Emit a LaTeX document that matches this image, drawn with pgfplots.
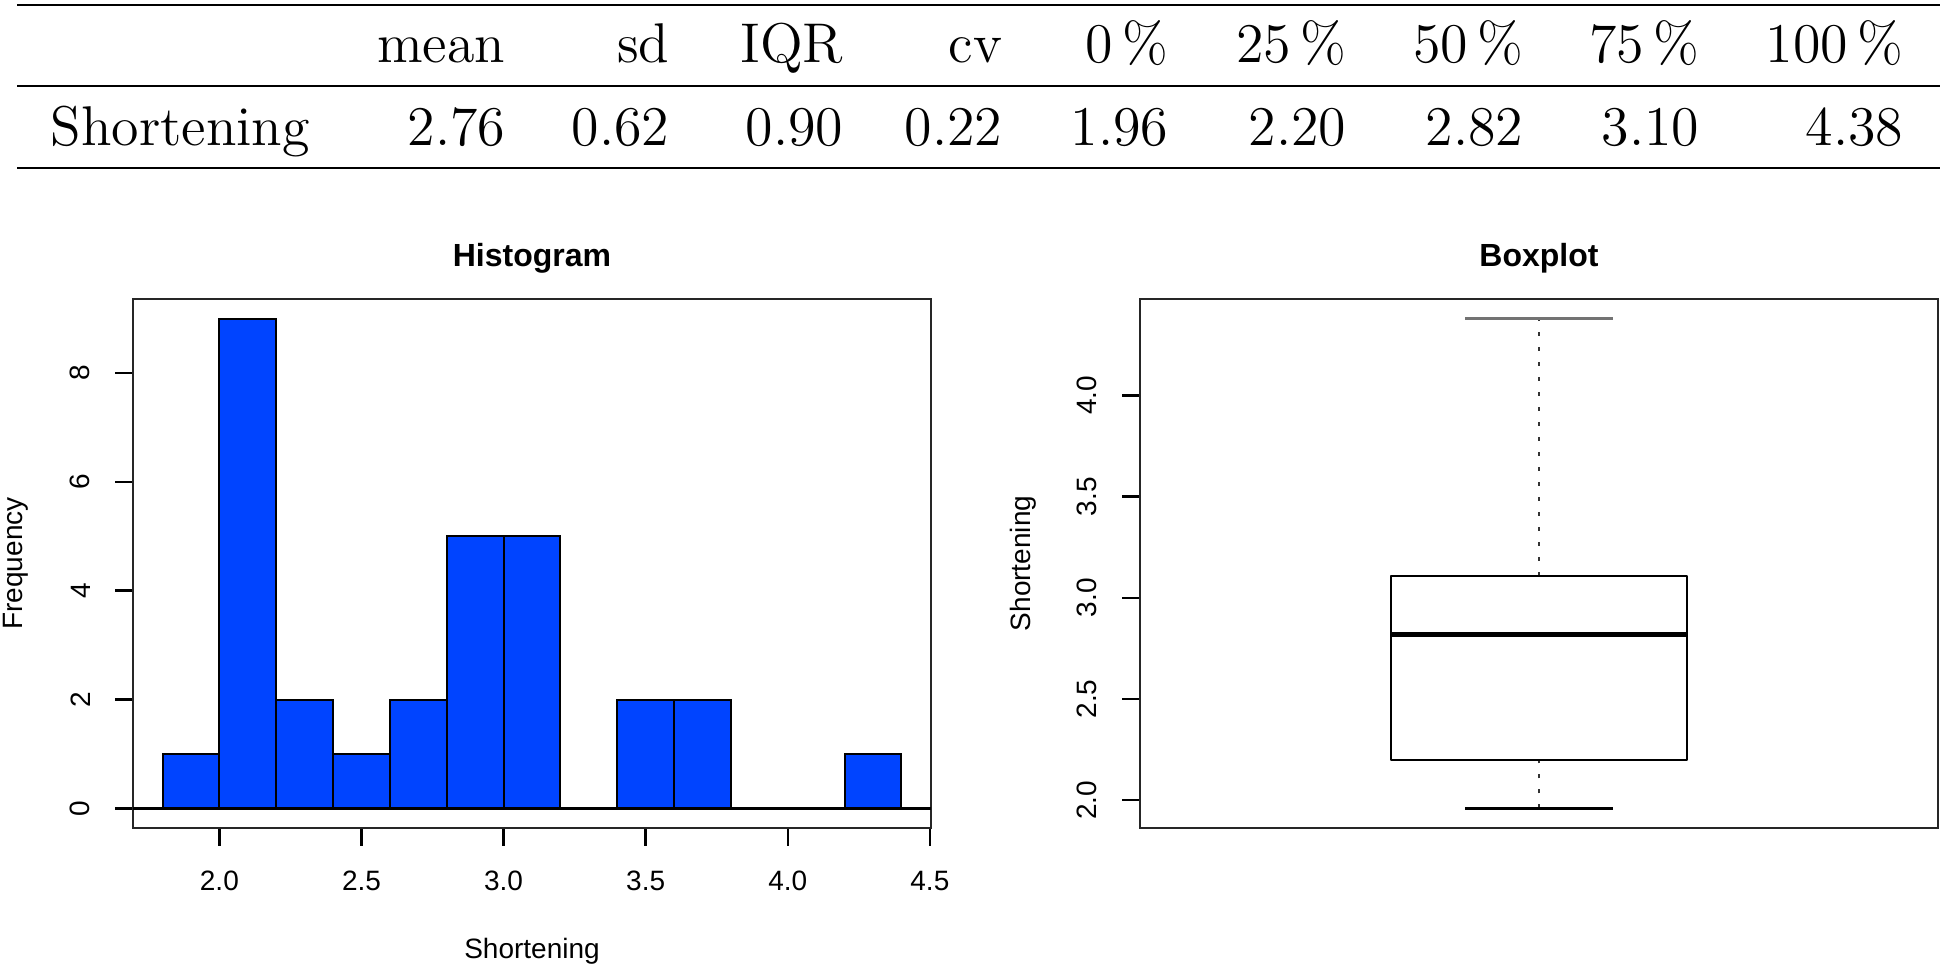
\documentclass[border=0pt]{standalone}
\usepackage{fontspec}
\usepackage{pgfplots}
\pgfplotsset{compat=1.18}
\newfontfamily\hv{Liberation Sans}
\definecolor{histblue}{RGB}{0,68,255}

% R-like base graphics look
\pgfplotsset{
  rplot/.style={
    scale only axis,
    width=199.5pt, height=132.25pt,
    anchor=south west,
    axis line style={line width=0.6pt, black!85},
    tick align=outside,
    xtick pos=left, ytick pos=left,
    major tick length=4.5pt,
    tick style={black, line width=0.6pt},
    tick label style={font=\hv\fontsize{7}{8}\selectfont, inner sep=0pt},
    xticklabel style={anchor=north},
    yticklabel style={rotate=90, anchor=south},
    xticklabel shift=6pt, yticklabel shift=6pt,
    every axis title/.style={at={(axis description cs:0.5,1)},
      anchor=base, yshift=8pt, font=\hv\bfseries\fontsize{8}{9}\selectfont},
    every axis x label/.style={at={(axis description cs:0.5,-0.2325)},
      anchor=center, font=\hv\fontsize{7}{8}\selectfont},
    every axis y label/.style={at={(axis description cs:-0.1466,0.5)},
      anchor=center, rotate=90, font=\hv\fontsize{7}{8}\selectfont},
  },
}

\begin{document}
\begin{tikzpicture}
\path[use as bounding box] (0,0) rectangle (486.5pt,242.25pt);

% summary table
\draw[line width=0.7pt] (4.25pt,241pt) -- (485pt,241pt);
\draw[line width=0.7pt] (4.25pt,220.75pt) -- (485pt,220.75pt);
\draw[line width=0.7pt] (4.25pt,200.25pt) -- (485pt,200.25pt);
\foreach \x/\h/\v in {126.5/mean/2.76, 167.5/sd/0.62, 211/IQR/0.90,
    250.75/cv/0.22, 292.25/0\,\%/1.96, 336.75/25\,\%/2.20,
    381/50\,\%/2.82, 425/75\,\%/3.10, 476/100\,\%/4.38} {
  \node[anchor=base east, inner sep=0pt, font=\fontsize{14}{16}\selectfont]
    at (\x pt,226.5pt) {\h};
  \node[anchor=base east, inner sep=0pt, font=\fontsize{14}{16}\selectfont]
    at (\x pt,205.75pt) {\v};
}
\node[anchor=base west, inner sep=0pt, font=\fontsize{14}{16}\selectfont]
  at (12.5pt,205.75pt) {Shortening};

% histogram
\begin{axis}[rplot, at={(33.25pt,35.25pt)},
    xmin=1.696, xmax=4.504, ymin=-0.36, ymax=9.36,
    xtick={2,2.5,3,3.5,4,4.5}, xticklabels={2.0,2.5,3.0,3.5,4.0,4.5},
    ytick={0,2,4,6,8}, yticklabels={0,2,4,6,8},
    title={Histogram}, xlabel={Shortening}, ylabel={Frequency}]
  \addplot[ybar interval, fill=histblue, draw=black, line width=0.5pt] coordinates {
    (1.8,1) (2.0,9) (2.2,2) (2.4,1) (2.6,2) (2.8,5) (3.0,5)
    (3.2,0) (3.4,2) (3.6,2) (3.8,0) (4.0,0) (4.2,1) (4.4,1)
  };
  \addplot[black, line width=0.8pt] coordinates {(1.696,0) (4.504,0)};
\end{axis}

% boxplot: min 1.96, Q1 2.20, median 2.82, Q3 3.11, max 4.38
\begin{axis}[rplot, at={(285pt,35.25pt)},
    xmin=0.46, xmax=1.54, ymin=1.8632, ymax=4.4768,
    xtick=\empty,
    ytick={2,2.5,3,3.5,4}, yticklabels={2.0,2.5,3.0,3.5,4.0},
    title={Boxplot}, ylabel={Shortening}]
  \addplot[black!80, line width=0.7pt, dash pattern=on 1pt off 2.75pt]
    coordinates {(1,3.11) (1,4.38)};
  \addplot[black!80, line width=0.7pt, dash pattern=on 1pt off 2.75pt]
    coordinates {(1,1.96) (1,2.20)};
  \addplot[black, line width=0.55pt, line join=round]
    coordinates {(0.8,2.20) (1.2,2.20) (1.2,3.11) (0.8,3.11) (0.8,2.20) (1.2,2.20)};
  \addplot[black, line width=1.1pt] coordinates {(0.8,2.82) (1.2,2.82)};
  \addplot[black, line width=0.7pt] coordinates {(0.9,1.96) (1.1,1.96)};
  \addplot[black!55, line width=0.7pt] coordinates {(0.9,4.38) (1.1,4.38)};
\end{axis}
\end{tikzpicture}
\end{document}
